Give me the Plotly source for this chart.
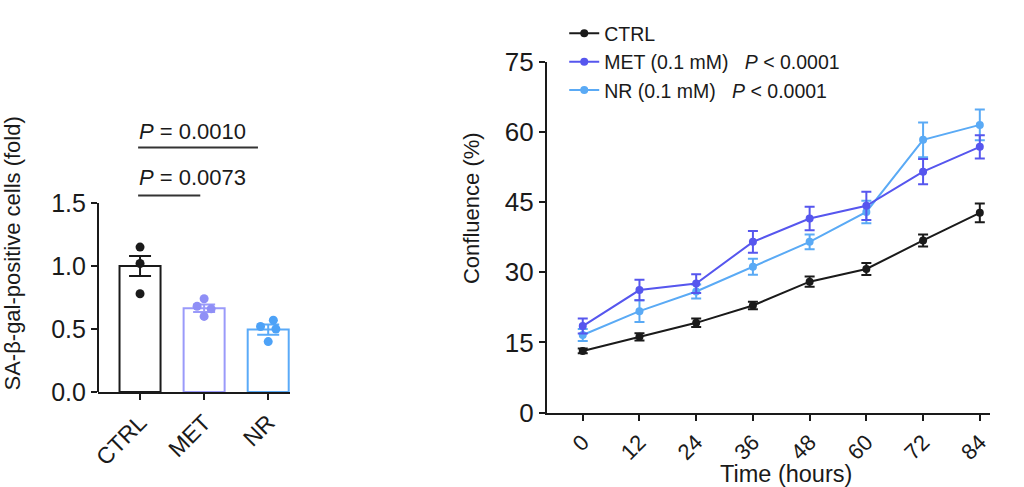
import plotly.graph_objects as go

# ---------------- data ----------------
groups = ["CTRL", "MET", "NR"]
bar_means = [1.00, 0.665, 0.495]
bar_sem = [0.08, 0.03, 0.04]
ctrl_pts = [1.15, 1.02, 0.78]
met_pts = [0.74, 0.68, 0.66, 0.60]
nr_pts = [0.57, 0.52, 0.50, 0.40]
p_labels = ["P = 0.0010", "P = 0.0073"]

hours = [0, 12, 24, 36, 48, 60, 72, 84]
ctrl_conf = [13.2, 16.2, 19.2, 22.9, 28.0, 30.7, 36.8, 42.7]
ctrl_err = [0.5, 0.8, 0.9, 0.8, 1.1, 1.3, 1.3, 2.0]
met_conf = [18.5, 26.2, 27.6, 36.5, 41.5, 44.2, 51.5, 56.8]
met_err = [1.6, 2.2, 2.0, 2.3, 2.5, 3.0, 2.7, 2.5]
nr_conf = [16.6, 21.7, 25.9, 31.2, 36.5, 42.9, 58.3, 61.5]
nr_err = [1.3, 2.3, 1.5, 1.7, 1.6, 2.4, 3.7, 3.3]
series_names = ["CTRL", "MET (0.1 mM)\u00a0\u00a0\u00a0<i>P</i> < 0.0001",
                "NR (0.1 mM)\u00a0\u00a0\u00a0<i>P</i> < 0.0001"]
left_ytitle = "SA-β-gal-positive cells (fold)"
right_ytitle = "Confluence (%)"
right_xtitle = "Time (hours)"

# ---------------- styles ----------------
FONT = "Liberation Sans, Arial, Helvetica, sans-serif"
BLACK = "#1a1a1a"
BAR_COLS = [BLACK, "#9a9afa", "#5aaaf8"]
DOT_COLS = [BLACK, "#8f8ff6", "#4da2f7"]
LINE_COLS = [BLACK, "#5656ee", "#5aaaf5"]
jitters = [[0.0, 0.0, 0.0], [0.0, -0.11, 0.11, 0.0], [0.08, -0.12, 0.12, 0.0]]

fig = go.Figure()

# ---- left: bar chart ----
for i, (m, e) in enumerate(zip(bar_means, bar_sem)):
    fig.add_trace(go.Bar(
        x=[i], y=[m], width=0.64,
        marker=dict(color="white", line=dict(color=BAR_COLS[i], width=2)),
        error_y=dict(type="data", array=[e], color=BAR_COLS[i], thickness=2, width=11),
        xaxis="x", yaxis="y", showlegend=False))

for i, pts in enumerate([ctrl_pts, met_pts, nr_pts]):
    fig.add_trace(go.Scatter(x=[i + j for j in jitters[i]], y=pts, mode="markers",
                             marker=dict(color=DOT_COLS[i], size=9), xaxis="x",
                             yaxis="y", showlegend=False, cliponaxis=False))

# ---- right: growth curves (draw order CTRL, NR, MET; legend order CTRL, MET, NR) ----
curves = list(zip(series_names, [ctrl_conf, met_conf, nr_conf],
                  [ctrl_err, met_err, nr_err], LINE_COLS, [1, 2, 3]))
for name, ys, es, col, rank in [curves[0], curves[2], curves[1]]:
    fig.add_trace(go.Scatter(
        x=hours, y=ys, mode="lines+markers", name=name, legendrank=rank,
        line=dict(color=col, width=2), marker=dict(color=col, size=8),
        error_y=dict(type="data", array=es, color=col, thickness=2, width=5),
        xaxis="x2", yaxis="y2"))

axis_common = dict(showgrid=False, zeroline=False, ticks="outside", ticklen=6,
                   tickwidth=2, tickcolor=BLACK, linecolor=BLACK, linewidth=2,
                   automargin=False)

fig.update_layout(
    width=1024, height=487,
    margin=dict(l=0, r=0, t=0, b=0, autoexpand=False),
    paper_bgcolor="white", plot_bgcolor="white",
    font=dict(family=FONT, color=BLACK),
    barmode="overlay",
    xaxis=dict(domain=[0.0957, 0.2832], range=[-0.656, 2.34], showline=True,
               tickvals=[0, 1, 2], ticktext=groups, tickangle=-45,
               tickfont=dict(size=23), **axis_common),
    yaxis=dict(domain=[0.1951, 0.7643], range=[0, 2.2], showline=False,
               tickvals=[0, 0.5, 1.0, 1.5], ticktext=["0.0", "0.5", "1.0", "1.5"],
               tickfont=dict(size=25),
               title=dict(text=left_ytitle, font=dict(size=22), standoff=24),
               **axis_common),
    xaxis2=dict(domain=[0.534, 0.967], range=[-7.6, 86.2], showline=True,
                tickvals=hours, tickangle=-45, tickfont=dict(size=22),
                anchor="y2", **axis_common),
    yaxis2=dict(domain=[0.1526, 0.8733], range=[0, 75], showline=True,
                tickvals=[0, 15, 30, 45, 60, 75], tickfont=dict(size=26),
                anchor="x2", **axis_common),
    legend=dict(x=0.551, y=0.971, xanchor="left", yanchor="top",
                font=dict(size=19.5, family=FONT), tracegroupgap=0,
                bgcolor="rgba(0,0,0,0)", itemwidth=30),
)

# axis titles of the right panel (placed as in the reference)
fig.add_annotation(x=0.461, y=0.573, xref="paper", yref="paper", showarrow=False,
                   text=right_ytitle, textangle=-90, xanchor="center", yanchor="middle",
                   font=dict(size=22, color=BLACK))
fig.add_annotation(x=0.7676, y=0.027, xref="paper", yref="paper", showarrow=False,
                   text=right_xtitle, xanchor="center", yanchor="middle",
                   font=dict(size=23.5, color=BLACK))

# y-axis line of the left panel only up to 1.5
fig.add_shape(type="line", xref="x domain", yref="y", x0=0, x1=0, y0=0, y1=1.5,
              line=dict(color=BLACK, width=2))
# significance brackets
fig.add_shape(type="line", xref="x", yref="y", x0=-0.03, x1=1.84, y0=1.94, y1=1.94,
              line=dict(color="#333", width=2))
fig.add_shape(type="line", xref="x", yref="y", x0=-0.03, x1=0.94, y0=1.56, y1=1.56,
              line=dict(color="#333", width=2))
for txt, yv in zip(p_labels, [2.07, 1.70]):
    fig.add_annotation(x=-0.05, y=yv, xref="x", yref="y", xanchor="left",
                       yanchor="middle", showarrow=False,
                       text="<i>P</i>" + txt[1:], font=dict(size=22, color=BLACK))

fig.write_html("out.html", config={"displayModeBar": False},
               post_script="document.body.style.margin='0px';")
